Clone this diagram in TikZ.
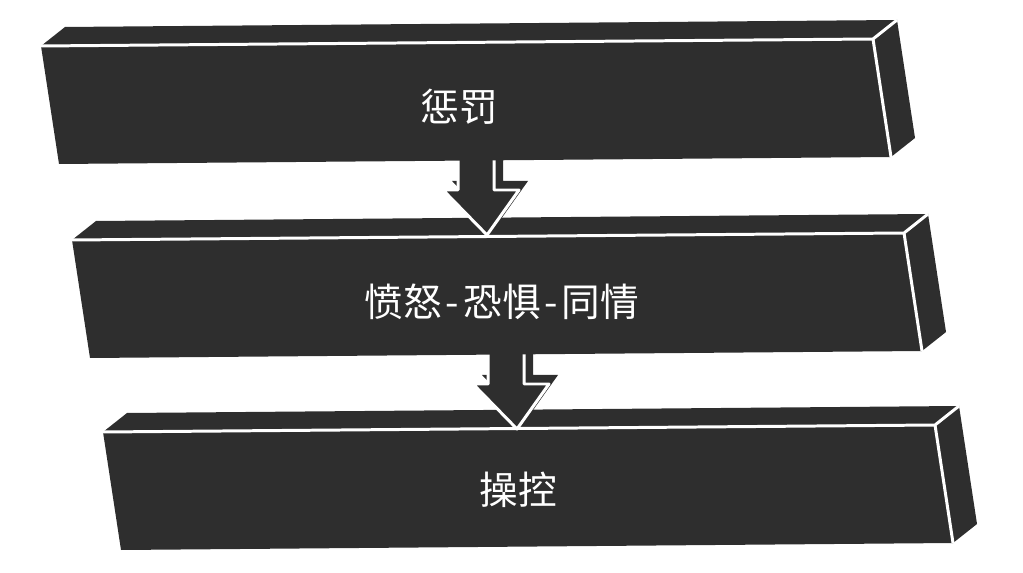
\documentclass[tikz,border=0pt]{standalone}
\usepackage{fontspec}
\newfontfamily\cjk{Noto Sans CJK SC}
\definecolor{slabgray}{HTML}{2E2E2E}
\newcommand\linkdash{\makebox[0.55em]{-}}

\tikzset{
  ridge/.style={draw=white, line width=1.7pt, line join=round},
  slabtext/.style={text=white, font=\cjk\fontsize{22}{26}\selectfont},
  % one dark bar, seen from the front and a little from above and the right
  slabbox/.pic={
    \fill[slabgray] (0,0) -- (24,-19) -- (856,-26) -- (832,-7) -- cycle;
    \fill[slabgray] (832,-7) -- (856,-26) -- (874,92) -- (850,111) -- cycle;
    \fill[slabgray] (0,0) -- (832,-7) -- (850,111) -- (18,118) -- cycle;
    \draw[ridge] (0,0) -- (832,-7) -- (850,111) (832,-7) -- (856,-26);
  },
  % block arrow, tip at the pic origin
  dropArrow/.pic={
    \fill[slabgray, shift={(9,-9)}] (-29,-83) -- (-29,-45) -- (-44,-45) -- (0,0)
      -- (32,-45) -- (7,-45) -- (7,-83) -- cycle;
    \filldraw[slabgray, ridge] (-29,-83) -- (-29,-45) -- (-44,-45) -- (0,0)
      -- (32,-45) -- (7,-45) -- (7,-83) -- cycle;
  }
}

\begin{document}
\begin{tikzpicture}[x=0.02cm, y=-0.02cm]
  \useasboundingbox (0,0) rectangle (1023,573);

  \coordinate (b1) at (41,46);
  \coordinate (b2) at (72,240);
  \coordinate (b3) at (103,432);
  \coordinate (tip1) at (487,235);
  \coordinate (tip2) at (517,429);

  \pic at (b3) {slabbox};
  \pic at (tip2) {dropArrow};
  \pic at (b2) {slabbox};
  \pic at (tip1) {dropArrow};
  \pic at (b1) {slabbox};

  \node[slabtext] (pun) at (459,107) {惩罚};
  \node[slabtext] (emo) at (502,302) {愤怒\linkdash 恐惧\linkdash 同情};
  \node[slabtext] (ctrl) at (518,490) {操控};
\end{tikzpicture}
\end{document}
